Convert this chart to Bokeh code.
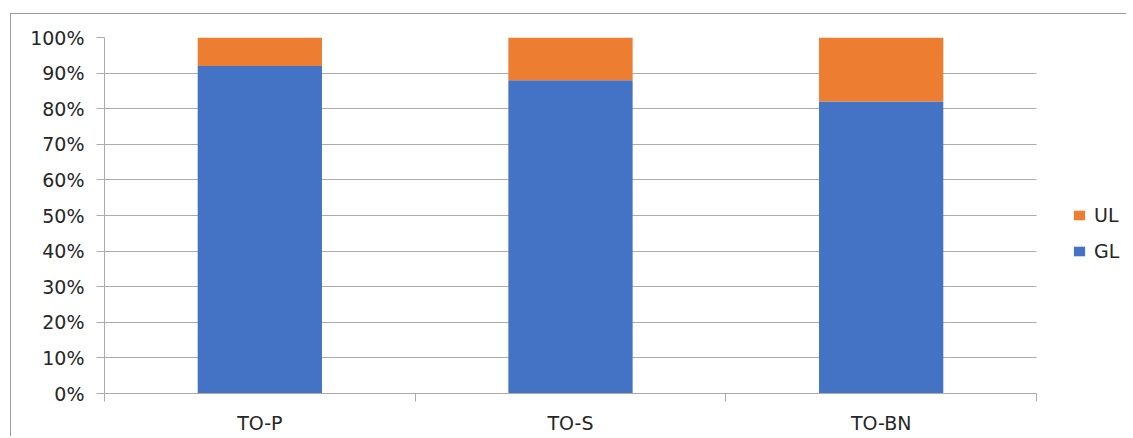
from bokeh.plotting import figure
from bokeh.layouts import column
from bokeh.models import ColumnDataSource, FixedTicker, Legend, LegendItem, NumeralTickFormatter, Range1d
from bokeh.embed import file_html
from bokeh.resources import INLINE
import numpy as np

categories = ["TO-P", "TO-S", "TO-BN"]
gl = [0.92, 0.88, 0.82]
ul = [0.08, 0.12, 0.18]
y_ticks = [0, 0.1, 0.2, 0.3, 0.4, 0.5, 0.6, 0.7, 0.8, 0.9, 1.0]

n = len(categories)
xpos = list(np.arange(n) + 0.5)
source = ColumnDataSource(dict(x=xpos, GL=gl, UL=ul))

FONT = "DejaVu Sans"
FS = "19px"
GRID = "#ababab"
TXT = "#262626"

W, H = 1115, 422
ML, MR, MT, MB = 93, 0, 23, 43
cat_w = 932  # pixel width of the category area
frame_w = W - ML - MR
x_end = n * frame_w / cat_w

p = figure(width=W, height=H, output_backend="svg", toolbar_location=None,
           x_range=Range1d(0, x_end), y_range=Range1d(0, 1),
           min_border_left=ML, min_border_right=MR, min_border_top=MT, min_border_bottom=MB)

r = p.vbar_stack(["GL", "UL"], x="x", width=0.4, source=source,
                 color=["#4472C4", "#ED7D31"], line_color=None)

p.outline_line_color = None
p.xgrid.grid_line_color = None
yg = p.ygrid[0]
yg.ticker = FixedTicker(ticks=y_ticks)
yg.grid_line_color = GRID
yg.grid_line_width = 1
if "cross_bounds" in yg.properties():
    yg.cross_bounds = (0, n)

ya = p.yaxis[0]
ya.ticker = FixedTicker(ticks=y_ticks)
ya.formatter = NumeralTickFormatter(format="0%")
ya.axis_line_color = GRID
ya.major_tick_line_color = GRID
ya.major_tick_out = 8
ya.major_tick_in = 0
ya.minor_tick_line_color = None
ya.major_label_text_font = FONT
ya.major_label_text_font_size = FS
ya.major_label_text_color = TXT
ya.major_label_standoff = 12

xa = p.xaxis[0]
xa.bounds = (0, n)
xa.ticker = FixedTicker(ticks=xpos, minor_ticks=list(range(n + 1)))
xa.major_label_overrides = {float(x): c for x, c in zip(xpos, categories)}
xa.axis_line_color = GRID
xa.major_tick_line_color = None
xa.major_tick_out = 0
xa.major_tick_in = 0
xa.minor_tick_line_color = GRID
xa.minor_tick_out = 8
xa.minor_tick_in = 0
xa.major_label_text_font = FONT
xa.major_label_text_font_size = FS
xa.major_label_text_color = TXT
xa.major_label_standoff = 10

legend = Legend(items=[LegendItem(label="UL", renderers=[r[1]]),
                       LegendItem(label="GL", renderers=[r[0]])],
                location=(968, 131), border_line_color=None, background_fill_alpha=0,
                margin=0, padding=0,
                label_text_font=FONT, label_text_font_size=FS, label_text_color=TXT,
                glyph_width=14, glyph_height=12, spacing=14, label_standoff=8)
p.add_layout(legend, "center")

layout = column(p, margin=(13, 0, 0, 10),
                styles={"border-left": "1px solid #9a9a9a", "border-top": "1px solid #9a9a9a"})

open("out.html", "w").write(file_html(layout, INLINE))
